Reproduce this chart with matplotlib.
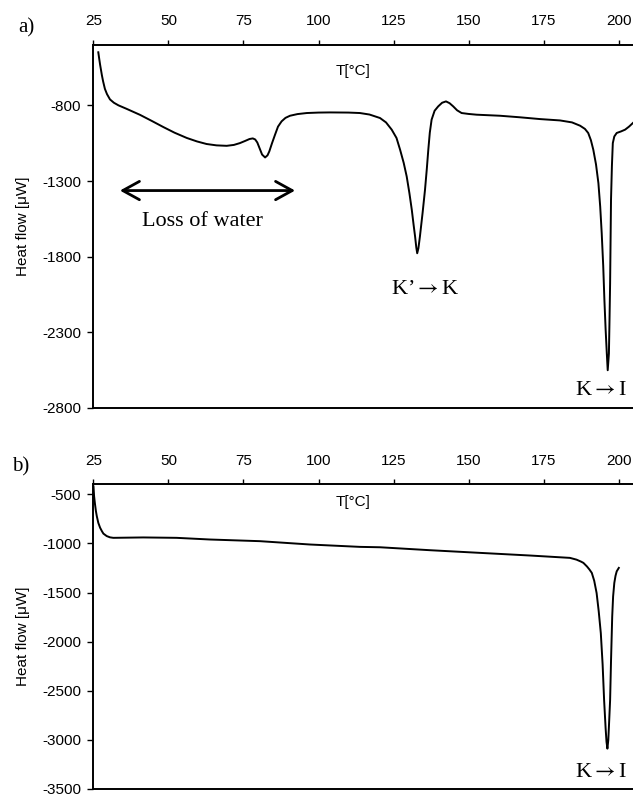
import matplotlib
matplotlib.use("Agg")
import matplotlib.pyplot as plt

# ---- data ----
temp_a = [26.6, 26.9, 27.2, 27.5, 27.8, 28.2, 28.8, 29.5, 30.5, 31.8, 33.3, 36.0,
          40.5, 44.5, 48.3, 52.0, 56.1, 59.5, 62.7, 66.0, 69.4, 71.8, 73.8, 75.5,
          77.0, 78.1, 78.9, 79.6, 80.4, 81.2, 82.2, 83.0, 83.6, 84.5, 85.5, 86.5,
          87.7, 89.0, 90.5, 93.0, 96.1, 100.0, 103.8, 110.0, 113.8, 117.0, 120.5,
          122.5, 124.4, 126.0, 127.2, 128.4, 129.4, 130.3, 131.1, 131.7, 132.2,
          132.6, 132.9, 133.3, 133.8, 134.7, 135.5, 136.1, 136.6, 137.1, 137.7,
          138.7, 139.9, 141.2, 142.5, 143.7, 144.9, 146.2, 147.7, 150.0, 152.7,
          160.5, 167.0, 173.8, 180.5, 184.5, 187.2, 188.8, 189.9, 190.8, 191.6,
          192.5, 193.3, 193.9, 194.4, 194.9, 195.3, 195.7, 196.1, 196.4, 196.8,
          197.0, 197.2, 197.35, 197.5, 197.8, 198.1, 198.6, 199.4, 200.8, 202.2,
          203.5, 204.8]
heat_a = [-448, -490, -530, -565, -600, -640, -690, -725, -760, -782, -799, -822,
          -862, -903, -943, -980, -1015, -1038, -1055, -1064, -1067, -1061, -1049, -1035,
          -1022, -1018, -1025, -1045, -1085, -1125, -1144, -1130, -1104, -1050, -994, -940,
          -905, -882, -868, -857, -850, -847, -846, -847, -850, -860, -883,
          -912, -960, -1015, -1093, -1180, -1270, -1380, -1491, -1590, -1668,
          -1740, -1778, -1745, -1668, -1510, -1358, -1220, -1093, -980, -894,
          -835, -806, -782, -773, -785, -806, -832, -850, -856, -861,
          -868, -878, -890, -899, -912, -934, -955, -982, -1030, -1093,
          -1190, -1314, -1470, -1645, -1860, -2088, -2280, -2441, -2552, -2441,
          -2220, -1977, -1700, -1425, -1200, -1049, -1005, -982, -972, -960,
          -940, -916]

temp_b = [25.0, 25.2, 25.5, 25.8, 26.1, 26.6, 27.2, 27.8, 28.3, 29.4, 30.5, 31.6,
          41.6, 52.7, 63.8, 80.5, 97.2, 113.8, 120.5, 137.2, 153.8, 170.5, 183.8,
          186.0, 187.5, 188.3, 189.5, 190.3, 191.1, 191.9, 192.7, 193.4, 194.1,
          194.7, 195.2, 195.7, 196.0, 196.3, 196.6, 196.9, 197.2, 197.5, 197.9,
          198.2, 198.6, 199.0, 199.4, 200.1]
heat_b = [-420, -520, -600, -670, -722, -790, -840, -875, -900, -925, -938, -943,
          -939, -943, -960, -977, -1011, -1035, -1039, -1069, -1096, -1123, -1147,
          -1165, -1185, -1198, -1235, -1265, -1300, -1380, -1505, -1690, -1913,
          -2230, -2595, -2880, -3020, -3089, -3000, -2800, -2595, -2200, -1744,
          -1540, -1402, -1330, -1284, -1249]

xticks = [25, 50, 75, 100, 125, 150, 175, 200]
yticks_a = [-2800, -2300, -1800, -1300, -800]
yticks_b = [-3500, -3000, -2500, -2000, -1500, -1000, -500]

sans = ["Liberation Sans", "DejaVu Sans"]
serif = ["Liberation Serif", "DejaVu Serif"]
plt.rcParams["font.family"] = sans
plt.rcParams["mathtext.fontset"] = "stix"

fig = plt.figure(figsize=(6.33, 7.94), dpi=100)
ax_a = fig.add_axes([0.1477, 0.4865, 0.8523, 0.4568])
ax_b = fig.add_axes([0.1477, 0.0063, 0.8523, 0.3835])


def style(ax, yticks, ylim):
    ax.set_xlim(25, 204.83)
    ax.set_ylim(*ylim)
    ax.set_xticks(xticks)
    ax.set_yticks(yticks)
    ax.set_yticklabels([str(v) for v in yticks])
    ax.spines["right"].set_visible(False)
    for s in ("top", "left", "bottom"):
        ax.spines[s].set_linewidth(1.4)
    ax.tick_params(axis="x", which="both", bottom=False, labelbottom=False,
                   top=True, labeltop=True, direction="out", length=3.5,
                   width=1, labelsize=11, pad=8.5)
    ax.tick_params(axis="y", direction="out", length=4, width=1,
                   labelsize=11, pad=5)
    ax.set_ylabel("Heat flow [μW]", fontsize=11)
    ax.yaxis.set_label_coords(-0.117, 0.5)


ax_a.plot(temp_a, heat_a, color="black", lw=1.4)
style(ax_a, yticks_a, (-2800, -400))
ax_b.plot(temp_b, heat_b, color="black", lw=1.4)
style(ax_b, yticks_b, (-3500, -400))

# annotations
ax_a.text(111.5, -569, "T[°C]", ha="center", va="center", fontsize=11)
ax_b.text(111.5, -582, "T[°C]", ha="center", va="center", fontsize=11)

ax_a.annotate("", xy=(92.2, -1363), xytext=(33.8, -1363),
              arrowprops=dict(arrowstyle="<->,head_length=0.6,head_width=0.33",
                              lw=2, color="black", mutation_scale=20,
                              shrinkA=0, shrinkB=0))
ax_a.text(61.2, -1570, "Loss of water", ha="center", va="center",
          fontsize=16, family=serif)
ax_a.text(135.7, -2021, "K’$\\rightarrow$K", ha="center", va="center",
          fontsize=16, family=serif)
ax_a.text(194.2, -2684, "K$\\rightarrow$I", ha="center", va="center",
          fontsize=16, family=serif)
ax_b.text(194.2, -3331, "K$\\rightarrow$I", ha="center", va="center",
          fontsize=16, family=serif)

fig.text(0.0411, 0.9647, "a)", ha="center", va="center", fontsize=15, family=serif)
fig.text(0.0332, 0.4118, "b)", ha="center", va="center", fontsize=15, family=serif)

fig.savefig("out.png", dpi=100)
